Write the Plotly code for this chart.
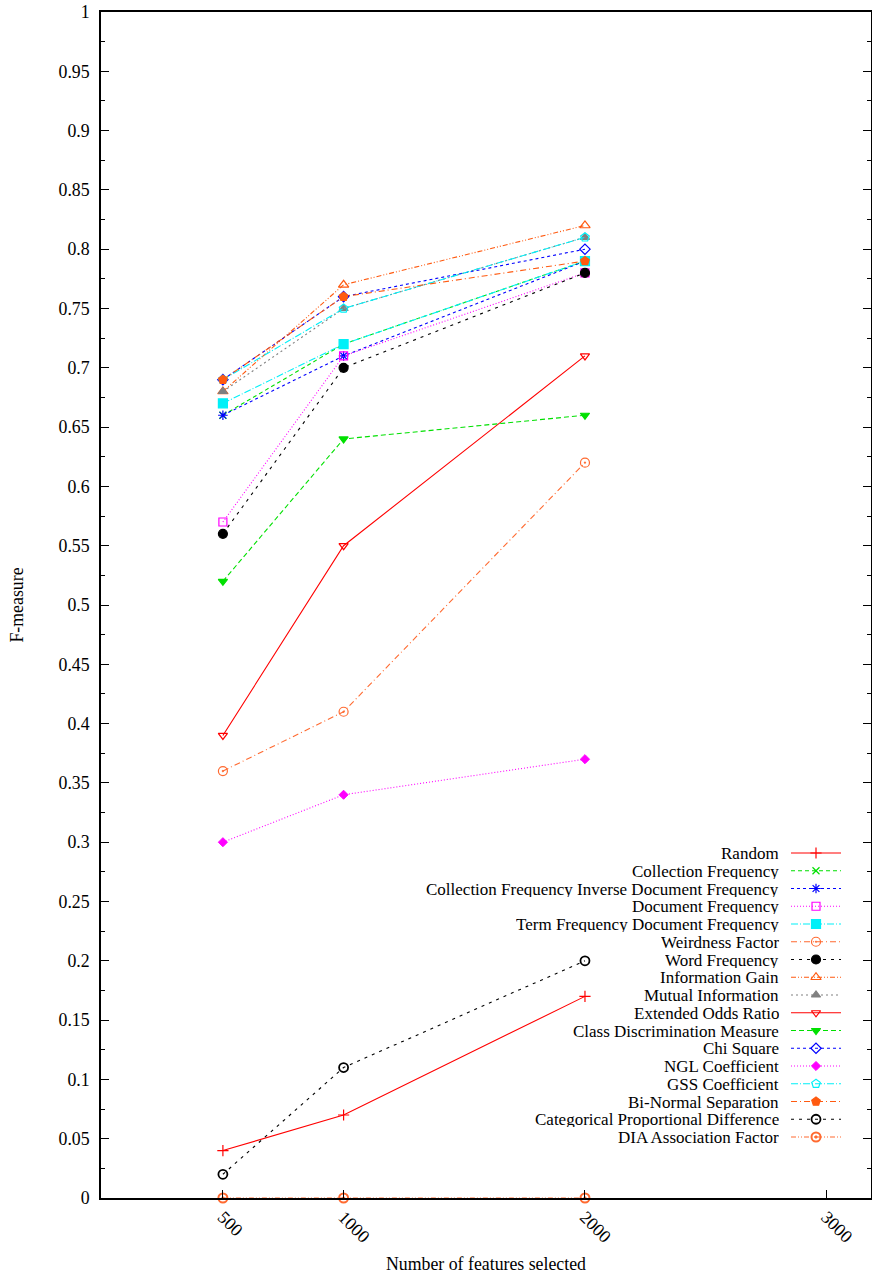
import plotly.graph_objects as go

# ---------------- data ----------------
features = [500, 1000, 2000]
series_names = [
    "Random",
    "Collection Frequency",
    "Collection Frequency Inverse Document Frequency",
    "Document Frequency",
    "Term Frequency Document Frequency",
    "Weirdness Factor",
    "Word Frequency",
    "Information Gain",
    "Mutual Information",
    "Extended Odds Ratio",
    "Class Discrimination Measure",
    "Chi Square",
    "NGL Coefficient",
    "GSS Coefficient",
    "Bi-Normal Separation",
    "Categorical Proportional Difference",
    "DIA Association Factor",
]
random_v = [0.04, 0.07, 0.17]
cf_v = [0.66, 0.72, 0.79]
cfidf_v = [0.66, 0.71, 0.79]
df_v = [0.57, 0.71, 0.78]
tfdf_v = [0.67, 0.72, 0.79]
weird_v = [0.36, 0.41, 0.62]
wf_v = [0.56, 0.70, 0.78]
ig_v = [0.68, 0.77, 0.82]
mi_v = [0.68, 0.75, 0.81]
eor_v = [0.39, 0.55, 0.71]
cdm_v = [0.52, 0.64, 0.66]
chi_v = [0.69, 0.76, 0.80]
ngl_v = [0.30, 0.34, 0.37]
gss_v = [0.69, 0.75, 0.81]
bns_v = [0.69, 0.76, 0.79]
cpd_v = [0.02, 0.11, 0.20]
dia_v = [0.0, 0.0, 0.0]
series_values = [random_v, cf_v, cfidf_v, df_v, tfdf_v, weird_v, wf_v, ig_v, mi_v,
                 eor_v, cdm_v, chi_v, ngl_v, gss_v, bns_v, cpd_v, dia_v]

x_tick_vals = [500, 1000, 2000, 3000]
x_tick_text = ["500", "1000", "2000", "3000"]
y_tick_vals = [i * 0.05 for i in range(21)]
y_tick_text = ["0", "0.05", "0.1", "0.15", "0.2", "0.25", "0.3", "0.35", "0.4", "0.45",
               "0.5", "0.55", "0.6", "0.65", "0.7", "0.75", "0.8", "0.85", "0.9", "0.95", "1"]

# ---------------- styles ----------------
RED, GREEN, BLUE, MAG, CYAN = "#ff0000", "#00e000", "#0000ff", "#ff00ff", "#00f0f8"
ORA1, ORA2, BLACK, GRAY = "#ff6a30", "#ff5a10", "#000000", "#808080"
styles = [
    (RED, "solid", "cross-thin-open", 8, 1.2),
    (GREEN, "4px,3px", "x-thin-open", 7, 1.2),
    (BLUE, "3px,3px", "asterisk-open", 8, 1.2),
    (MAG, "1px,2px", "square-open", 8, 1.2),
    (CYAN, "7px,2px,1px,2px", "square", 9, 1.2),
    (ORA1, "6px,3px,1px,3px", "circle-open-dot", 9, 1.2),
    (BLACK, "3px,5px", "circle", 9, 1.2),
    (ORA2, "5px,2px,1px,2px,1px,2px", "triangle-up-open", 9, 1.2),
    (GRAY, "2px,3px", "triangle-up", 8, 1.2),
    (RED, "solid", "triangle-down-open", 8, 1.2),
    (GREEN, "5px,3px", "triangle-down", 8, 1.2),
    (BLUE, "3px,3px", "diamond-open", 8, 1.2),
    (MAG, "1px,2px", "diamond", 7, 1.0),
    (CYAN, "7px,2px,1px,2px", "pentagon-open", 9, 1.2),
    (ORA2, "6px,3px,1px,3px", "pentagon", 9, 1.2),
    (BLACK, "3px,5px", "circle-open", 9, 1.8),
    (ORA1, "5px,2px,1px,2px,1px,2px", "circle-open-dot", 9, 2.0),
]

FONT = "Liberation Serif"
FS = 17.8
LEG_FS = 17.0
W, H = 872, 1277
ML, MR, MT, MB = 101, 1, 12, 79
PW, PH = W - ML - MR, H - MT - MB

fig = go.Figure()
for name, vals, (col, dash, sym, msz, mlw) in zip(series_names, series_values, styles):
    fig.add_trace(go.Scatter(
        x=features, y=vals, mode="lines+markers", name=name, showlegend=False,
        line=dict(color=col, width=1.1, dash=dash),
        marker=dict(symbol=sym, size=msz, color=col, line=dict(color=col, width=mlw)),
        cliponaxis=False,
    ))

# ---------------- custom legend (text right, sample on right) ----------------
leg_row0 = 853.0     # pixel y of first row
leg_step = 17.75
key_x0, key_x1 = 791.0, 841.0
text_right = 780.0

def fx(px):
    return (px - ML) / PW

def fy(py):
    return (H - MB - py) / PH

for i, (name, (col, dash, sym, msz, mlw)) in enumerate(zip(series_names, styles)):
    yy = fy(leg_row0 + i * leg_step)
    fig.add_trace(go.Scatter(
        x=[fx(key_x0), fx(key_x1)], y=[yy, yy], mode="lines", xaxis="x2", yaxis="y2",
        line=dict(color=col, width=1.1, dash=dash), showlegend=False, hoverinfo="skip"))
    fig.add_trace(go.Scatter(
        x=[fx((key_x0 + key_x1) / 2)], y=[yy], mode="markers", xaxis="x2", yaxis="y2",
        marker=dict(symbol=sym, size=msz, color=col, line=dict(color=col, width=mlw)),
        showlegend=False, hoverinfo="skip"))
    fig.add_annotation(x=fx(text_right), y=yy, xref="x2", yref="y2", text=name,
                       showarrow=False, xanchor="right", yanchor="middle",
                       height=16, borderpad=0, valign="middle",
                       font=dict(family=FONT, size=LEG_FS, color="black"))

fig.update_layout(
    width=W, height=H,
    margin=dict(l=ML, r=MR, t=MT, b=MB, autoexpand=False),
    plot_bgcolor="white", paper_bgcolor="white",
    font=dict(family=FONT, size=FS, color="black"),
    showlegend=False,
    xaxis=dict(
        range=[-5, 3185], tickvals=x_tick_vals, ticktext=x_tick_text, tickangle=45,
        ticks="inside", ticklen=8, tickcolor="black", tickwidth=1,
        showline=True, linecolor="black", linewidth=1.6, mirror=True,
        showgrid=False, zeroline=False,
        title=dict(text="Number of features selected", standoff=12,
                   font=dict(family=FONT, size=FS)),
        tickfont=dict(family=FONT, size=FS),
    ),
    yaxis=dict(
        range=[0, 1], tickvals=y_tick_vals, ticktext=y_tick_text,
        ticks="inside", ticklen=8, tickcolor="black", tickwidth=1,
        minor=dict(ticks="inside", ticklen=4, dtick=0.025, tick0=0, tickcolor="black"),
        showline=True, linecolor="black", linewidth=1.6, mirror="ticks",
        showgrid=False, zeroline=False, ticklabelstandoff=6,
        title=dict(text="F-measure", standoff=30, font=dict(family=FONT, size=FS)),
        tickfont=dict(family=FONT, size=FS),
    ),
    xaxis2=dict(overlaying="x", range=[0, 1], visible=False, domain=[0, 1]),
    yaxis2=dict(overlaying="y", range=[0, 1], visible=False, domain=[0, 1]),
)

fig.write_html("out.html")
